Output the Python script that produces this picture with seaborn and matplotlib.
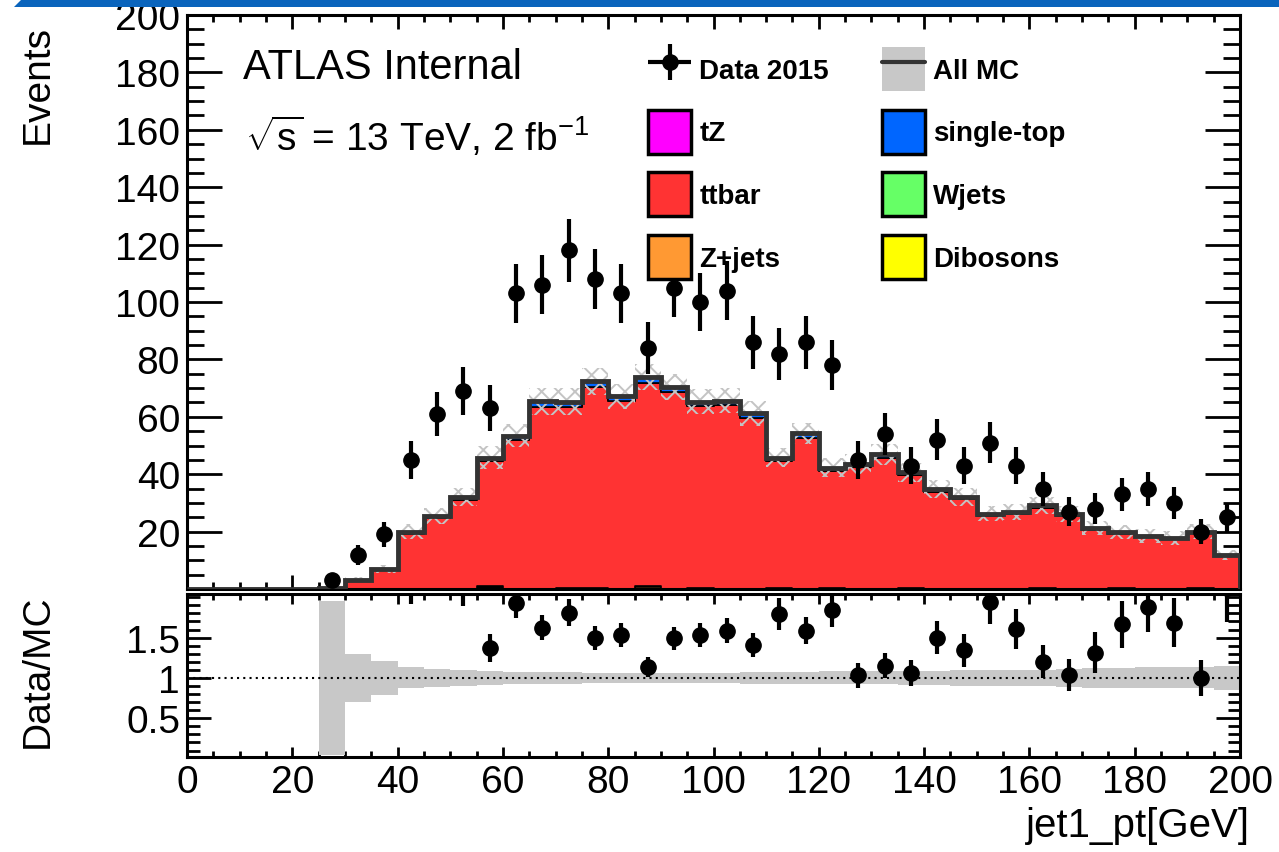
import numpy as np
import pandas as pd
import matplotlib
matplotlib.use("Agg")
import matplotlib.pyplot as plt
from matplotlib.patches import Patch, Polygon
from matplotlib.lines import Line2D
from matplotlib.container import ErrorbarContainer
from matplotlib.legend_handler import HandlerErrorbar
from matplotlib.ticker import MultipleLocator, FixedLocator
import seaborn as sns

# ---------------- data ----------------
bin_edges = np.arange(0, 205, 5)  # jet1_pt bins, 5 GeV wide, 0-200 GeV

data_2015 = [0, 0, 0, 0, 0, 3, 12, 19, 45, 61,
             69, 63, 103, 106, 118, 108, 103, 84, 105, 100,
             104, 86, 82, 86, 78, 45, 54, 43, 52, 43,
             51, 43, 35, 27, 28, 33, 35, 30, 20, 25]

ttbar = [0, 0, 0, 0, 0, 0.3, 3.1, 6.7, 19.3, 24.7,
         31.0, 43.4, 51.9, 63.5, 63.2, 70.0, 65.4, 70.9, 68.6, 63.1,
         63.9, 59.6, 44.1, 52.7, 40.9, 42.4, 45.7, 39.2, 33.8, 31.2,
         25.5, 26.1, 27.8, 25.5, 20.7, 18.8, 18.1, 17.3, 19.2, 11.4]

single_top = [0, 0, 0, 0, 0, 0, 0.2, 0.3, 0.7, 0.8,
              1.0, 1.3, 1.5, 1.8, 1.8, 2.0, 1.8, 2.0, 1.9, 1.7,
              1.7, 1.6, 1.3, 1.5, 1.1, 1.1, 1.2, 1.0, 0.9, 0.8,
              0.7, 0.7, 0.8, 0.7, 0.6, 0.6, 0.5, 0.5, 0.5, 0.4]

z_jets = [0, 0, 0, 0, 0, 0, 0, 0, 0, 0,
          0, 0.5, 0, 0, 0.3, 0, 0, 0.4, 0, 0.5,
          0, 0, 0.4, 0, 0, 0, 0, 0.4, 0, 0,
          0, 0, 0.5, 0, 0, 0.4, 0, 0, 0.3, 0]

w_jets = [0, 0, 0, 0, 0, 0, 0, 0, 0, 0,
          0, 0, 0, 0, 0, 0.3, 0, 0, 0, 0,
          0, 0, 0, 0, 0.3, 0, 0, 0, 0, 0,
          0, 0, 0, 0, 0, 0, 0, 0, 0, 0]

dibosons = [0, 0, 0, 0, 0, 0, 0, 0, 0, 0,
            0, 0.6, 0, 0, 0, 0, 0, 0.5, 0, 0,
            0, 0, 0, 0, 0, 0, 0, 0, 0, 0,
            0, 0, 0, 0, 0, 0, 0, 0, 0, 0]

t_z = [0, 0, 0, 0, 0, 0, 0, 0, 0, 0,
       0, 0, 0, 0.05, 0, 0, 0, 0, 0, 0,
       0.05, 0, 0, 0, 0, 0, 0, 0, 0, 0,
       0, 0, 0, 0, 0, 0, 0, 0, 0, 0]

mc_rel_unc = [0, 0, 0, 0, 0, 0.95, 0.30, 0.21, 0.13, 0.11,
              0.10, 0.085, 0.075, 0.07, 0.07, 0.065, 0.065, 0.06, 0.065, 0.065,
              0.065, 0.07, 0.075, 0.07, 0.08, 0.08, 0.08, 0.085, 0.09, 0.095,
              0.10, 0.10, 0.10, 0.11, 0.12, 0.12, 0.13, 0.13, 0.13, 0.15]

samples = ["Dibosons", "Wjets", "Z+jets", "tZ", "ttbar", "single-top"]  # bottom -> top
sample_values = [dibosons, w_jets, z_jets, t_z, ttbar, single_top]
colors = {"tZ": "#ff00ff", "ttbar": "#ff3333", "Z+jets": "#ff9933",
          "single-top": "#0066ff", "Wjets": "#66ff66", "Dibosons": "#ffff00"}

# ---------------- style ----------------
sns.set_theme(style="ticks")
plt.rcParams["font.family"] = ["Liberation Sans", "DejaVu Sans"]
plt.rcParams["mathtext.fontset"] = "custom"
plt.rcParams["mathtext.rm"] = "Liberation Sans"
plt.rcParams["mathtext.it"] = "Liberation Sans:italic"
plt.rcParams["mathtext.bf"] = "Liberation Sans:bold"
plt.rcParams["axes.linewidth"] = 2.2
plt.rcParams["hatch.linewidth"] = 1.4
for k in ["text.color", "axes.labelcolor", "xtick.color", "ytick.color", "axes.edgecolor"]:
    plt.rcParams[k] = "black"

W, H = 1279, 853
fig = plt.figure(figsize=(W / 100, H / 100), dpi=100)
fig.patch.set_facecolor("white")
ax = fig.add_axes([187 / W, 1 - 590 / H, 1053 / W, 574 / H])
ax2 = fig.add_axes([187 / W, 1 - 758 / H, 1053 / W, 163 / H])

centers = 0.5 * (bin_edges[:-1] + bin_edges[1:])
rows = []
for name, vals in zip(samples, sample_values):
    for c, v in zip(centers, vals):
        rows.append({"x": float(c), "w": float(v), "sample": name})
df = pd.DataFrame(rows)

# stacked MC
sns.histplot(data=df, x="x", weights="w", hue="sample", hue_order=samples[::-1],
             bins=[float(b) for b in bin_edges], multiple="stack", element="step",
             fill=True, palette=colors, alpha=1, edgecolor="black", linewidth=1.2,
             legend=False, ax=ax, zorder=2)

total = np.sum(np.array(sample_values, dtype=float), axis=0)
unc = np.array(mc_rel_unc)

# MC uncertainty hatch
ax.stairs(total * (1 + unc), bin_edges, baseline=total * (1 - unc), fill=True,
          facecolor="none", edgecolor="#c4c4c4", hatch="xx", linewidth=0, zorder=3)
# total MC outline
ax.stairs(total, bin_edges, baseline=0, color="#333333", linewidth=3.5, zorder=4)

# data
data = np.array(data_2015, dtype=float)
m = data > 0
ax.errorbar(centers[m], data[m], yerr=np.sqrt(data[m]), fmt="o", color="black",
            ms=11, elinewidth=3, capsize=0, zorder=5)

ax.set_xlim(0, 200)
ax.set_ylim(0, 200)
ax.yaxis.set_major_locator(FixedLocator(np.arange(20, 201, 20)))
ax.yaxis.set_minor_locator(MultipleLocator(5))
ax.xaxis.set_major_locator(MultipleLocator(20))
ax.xaxis.set_minor_locator(MultipleLocator(5))
ax.tick_params(axis="y", which="major", direction="in", length=25, width=2,
               left=True, right=True, labelsize=28, pad=5)
ax.tick_params(axis="y", which="minor", direction="in", length=12, width=2,
               left=True, right=True)
ax.tick_params(axis="x", which="major", direction="in", length=10, width=2,
               top=True, bottom=True, labelbottom=False)
ax.tick_params(axis="x", which="minor", direction="in", length=5, width=2,
               top=True, bottom=True)
ax.set_xlabel("")
ax.set_ylabel("Events", fontsize=28, loc="top")
ax.yaxis.set_label_coords(-0.125, 0.985)

# ratio panel
ratio = np.full_like(total, np.nan)
rerr = np.full_like(total, np.nan)
ok = (total > 0) & (data > 0)
ratio[ok] = data[ok] / total[ok]
rerr[ok] = np.sqrt(data[ok]) / total[ok]

ax2.stairs(1 + unc, bin_edges, baseline=1 - unc, fill=True, color="#c8c8c8",
           linewidth=0, zorder=1)
ax2.axhline(1.0, color="black", linestyle=(0, (1, 2)), linewidth=1.5, zorder=2)
ax2.errorbar(centers[ok], ratio[ok], yerr=rerr[ok], fmt="o", color="black",
             ms=11, elinewidth=3, capsize=0, zorder=3)
ax2.set_xlim(0, 200)
ax2.set_ylim(0.02, 2.04)
ax2.yaxis.set_major_locator(FixedLocator([0.5, 1.0, 1.5]))
ax2.yaxis.set_minor_locator(MultipleLocator(0.1))
ax2.yaxis.set_major_formatter(matplotlib.ticker.FuncFormatter(lambda v, p: f"{v:g}"))
ax2.xaxis.set_major_locator(MultipleLocator(20))
ax2.xaxis.set_minor_locator(MultipleLocator(5))
ax2.tick_params(axis="y", which="major", direction="in", length=17, width=2,
                left=True, right=True, labelsize=28, pad=5)
ax2.tick_params(axis="y", which="minor", direction="in", length=9, width=2,
                left=True, right=True)
ax2.tick_params(axis="x", which="major", direction="in", length=7, width=2,
                top=True, bottom=True, labelsize=28, pad=5)
ax2.tick_params(axis="x", which="minor", direction="in", length=4, width=2,
                top=True, bottom=True)
ax2.set_ylabel("Data/MC", fontsize=28, loc="top")
ax2.yaxis.set_label_coords(-0.125, 1.0)
ax2.set_xlabel("jet1_pt[GeV]", fontsize=29, loc="right")
ax2.xaxis.set_label_coords(1.0095, -0.30)

# annotations
fig.text(243 / W, 1 - 79 / H, "ATLAS Internal", fontsize=30, va="baseline")
fig.text(245 / W, 1 - 151 / H, r"$\sqrt{\mathregular{s}}$ = 13 TeV, 2 fb$^{\mathregular{-1}}$",
         fontsize=28, va="baseline")

# legend
data_h = ax.errorbar([np.nan], [np.nan], xerr=[1], yerr=[1], fmt="o", color="black",
                     ms=11, elinewidth=3, capsize=0)
allmc_h = (Patch(facecolor="#c8c8c8", edgecolor="none"),
           Line2D([0], [0], color="#333333", linewidth=3))


def box(c):
    return Patch(facecolor=c, edgecolor="black", linewidth=2.5)


handles = [data_h, box(colors["tZ"]), box(colors["ttbar"]), box(colors["Z+jets"]),
           allmc_h, box(colors["single-top"]), box(colors["Wjets"]), box(colors["Dibosons"])]
labels = ["Data 2015", "tZ", "ttbar", "Z+jets", "All MC", "single-top", "Wjets", "Dibosons"]
fig.legend(handles, labels, ncol=2, loc="upper left",
           bbox_to_anchor=(648 / W, 1 - 48 / H), bbox_transform=fig.transFigure,
           frameon=False, borderpad=0, borderaxespad=0,
           prop={"family": "Liberation Sans", "weight": "bold", "size": 20},
           handlelength=1.55, handleheight=2.05, handletextpad=0.3,
           labelspacing=0.68, columnspacing=1.9,
           handler_map={ErrorbarContainer: HandlerErrorbar(xerr_size=0.78, yerr_size=0.65)})

# slide banner at the top
fig.patches.append(Polygon([[14 / W, 1 - 8 / H], [22 / W, 1.0], [1.0, 1.0], [1.0, 1 - 8 / H]],
                           closed=True, transform=fig.transFigure,
                           facecolor="#0a64bc", edgecolor="none", zorder=10))

fig.savefig("out.png", dpi=100)
